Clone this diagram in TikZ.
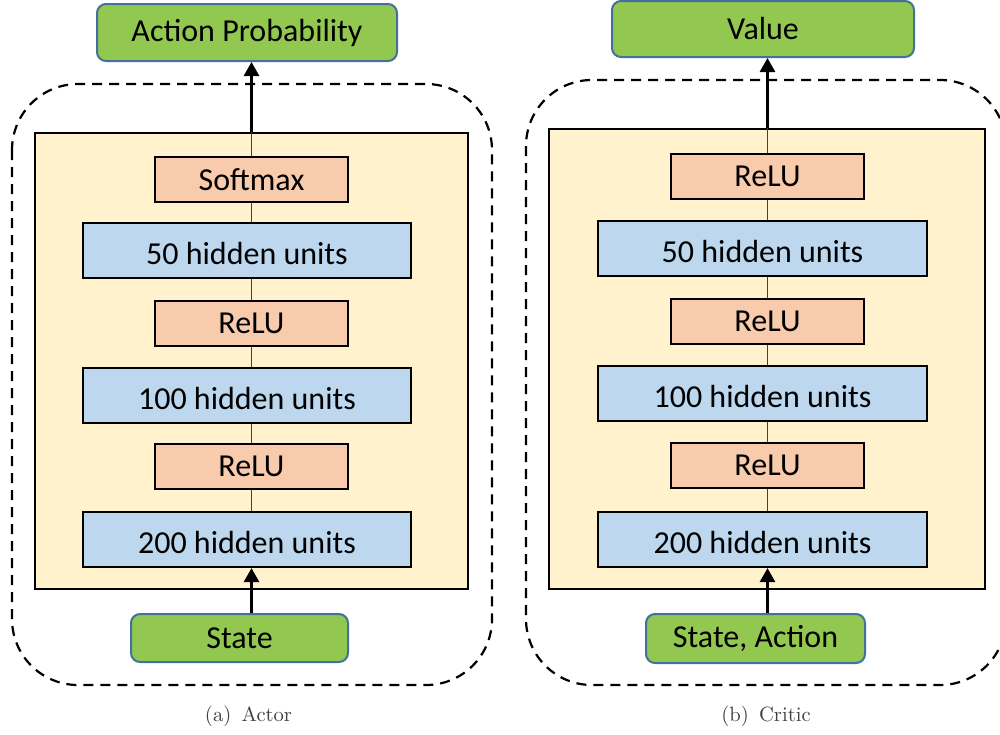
\documentclass[tikz,border=0pt]{standalone}
\usepackage{fontspec}
\newfontfamily\calib{Carlito}
\usetikzlibrary{arrows.meta}
\definecolor{gfill}{HTML}{92C84F}
\definecolor{gedge}{HTML}{41719C}
\definecolor{yfill}{HTML}{FFF2CC}
\definecolor{rfill}{HTML}{F8CBAD}
\definecolor{bfill}{HTML}{BDD7EE}
\definecolor{thinln}{HTML}{404040}
\tikzset{
  lbl/.style={font=\calib\fontsize{16}{19}\selectfont, inner sep=0pt, text=black},
  iobox/.style={lbl, draw=gedge, fill=gfill, line width=1pt, rounded corners=4.5pt},
  actbox/.style={lbl, draw=black, fill=rfill, line width=1pt, minimum width=96.5pt, minimum height=22.5pt},
  hidbox/.style={lbl, draw=black, fill=bfill, line width=1.1pt, minimum height=27.5pt, text height=14pt, text depth=0pt},
  netbox/.style={draw=black, fill=yfill, line width=1.2pt},
  group/.style={draw=black, line width=1.1pt, dash pattern=on 5pt off 3.5pt, rounded corners=33pt},
  thin/.style={draw=thinln, line width=0.6pt},
  flow/.style={draw=black, line width=1.4pt, -{Triangle[length=7pt,width=7.5pt]}},
  captext/.style={font=\fontsize{10.3}{12}\selectfont, text=black!75, inner sep=0pt}
}
\begin{document}
\begin{tikzpicture}[x=0.5pt,y=-0.5pt]
\useasboundingbox (0,0) rectangle (1000,734);
\clip (0,0) rectangle (1000,734);
% ---------- Actor ----------
\draw[group] (12,84) rectangle (492,685);
\node[netbox, minimum width=216.5pt, minimum height=228pt] (ynetA) at (251.5,361) {};
\coordinate (axA) at (251.5,0);
\node[iobox, minimum width=150pt, minimum height=28.5pt] (outA) at (247,32.5) {Action Probability};
\node[actbox] (smA) at (251.5,179.5) {Softmax};
\node[hidbox, minimum width=164pt] (h50A) at (247,250.5) {50 hidden units};
\node[actbox] (r1A) at (251.5,323.5) {ReLU};
\node[hidbox, minimum width=164pt] (h100A) at (247,395.5) {100 hidden units};
\node[actbox] (r2A) at (251.5,466.5) {ReLU};
\node[hidbox, minimum width=164pt] (h200A) at (247,539.5) {200 hidden units};
\node[iobox, minimum width=108.5pt, minimum height=24pt] (inA) at (239.5,638) {State};
\path[thin] (smA.south -| axA) -- (h50A.north -| axA);
\path[thin] (h50A.south -| axA) -- (r1A.north -| axA);
\path[thin] (r1A.south -| axA) -- (h100A.north -| axA);
\path[thin] (h100A.south -| axA) -- (r2A.north -| axA);
\path[thin] (r2A.south -| axA) -- (h200A.north -| axA);
\path[thin] (smA.north -| axA) -- (ynetA.north -| axA);
\path[flow] (ynetA.north -| axA) -- (outA.south -| axA);
\path[flow] (inA.north -| axA) -- (h200A.south -| axA);
\node[captext] (capA) at (248.5,716) {(a)\enspace Actor};
% ---------- Critic ----------
\draw[group] (526,80) rectangle (1006,685);
\node[netbox, minimum width=218pt, minimum height=230pt] (ynetC) at (767,359) {};
\coordinate (axC) at (767.5,0);
\node[iobox, minimum width=151pt, minimum height=28pt] (outC) at (763,29) {Value};
\node[actbox] (r0C) at (767.5,176.5) {ReLU};
\node[hidbox, minimum width=164.5pt] (h50C) at (762.5,248.5) {50 hidden units};
\node[actbox] (r1C) at (767.5,321.5) {ReLU};
\node[hidbox, minimum width=164.5pt] (h100C) at (762.5,393.5) {100 hidden units};
\node[actbox] (r2C) at (767.5,465.5) {ReLU};
\node[hidbox, minimum width=164.5pt] (h200C) at (762.5,539.5) {200 hidden units};
\node[iobox, minimum width=109.5pt, minimum height=24.5pt] (inC) at (755.5,638.5) {State, Action};
\path[thin] (r0C.south -| axC) -- (h50C.north -| axC);
\path[thin] (h50C.south -| axC) -- (r1C.north -| axC);
\path[thin] (r1C.south -| axC) -- (h100C.north -| axC);
\path[thin] (h100C.south -| axC) -- (r2C.north -| axC);
\path[thin] (r2C.south -| axC) -- (h200C.north -| axC);
\path[thin] (r0C.north -| axC) -- (ynetC.north -| axC);
\path[flow] (ynetC.north -| axC) -- (outC.south -| axC);
\path[flow] (inC.north -| axC) -- (h200C.south -| axC);
\node[captext] (capC) at (766,716) {(b)\enspace Critic};
\end{tikzpicture}
\end{document}
